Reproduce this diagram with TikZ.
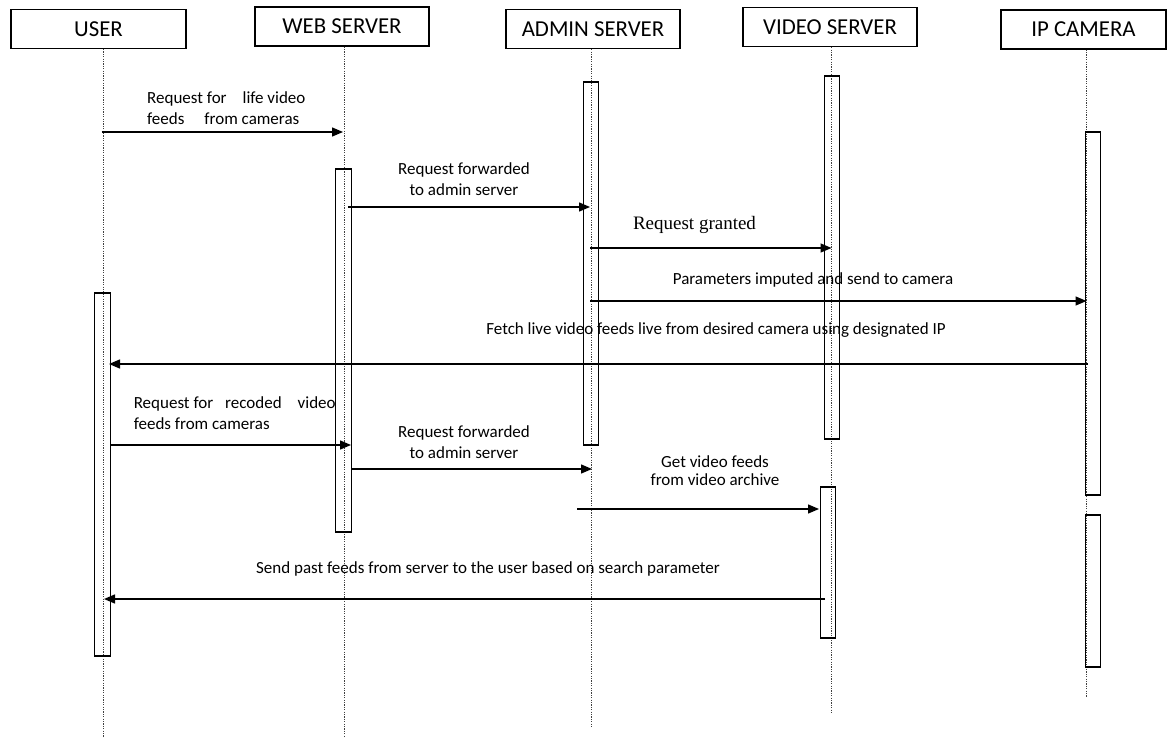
\documentclass[tikz,border=0pt]{standalone}
\usepackage{fontspec}
\setmainfont{Carlito}
\newfontfamily\tnrfont{Liberation Serif}
\usetikzlibrary{arrows.meta}
\tikzset{
  head/.style={draw, line width=1.4pt, inner sep=0pt, minimum height=39pt, font=\fontsize{22.8}{26}\selectfont},
  life/.style={draw=black!75, line width=0.7pt, dash pattern=on 1.2pt off 1.2pt},
  actbar/.style={draw, line width=1.1pt, rectangle, inner sep=0pt, minimum width=15.5pt},
  msg/.style={line width=1.4pt, -{Triangle[length=11pt,width=9pt]}},
  lbl/.style={font=\fontsize{17}{21}\selectfont, inner sep=0pt, align=center},
}
\begin{document}
\begin{tikzpicture}[x=1pt,y=-1pt]
\useasboundingbox (0,0) rectangle (1167,738);

% headers
\node[head, minimum width=175pt, line width=1.1pt] (user) at (98.5,29) {USER};
\node[head, minimum width=174pt] (web) at (342,26.5) {WEB SERVER};
\node[head, minimum width=174pt] (admin) at (593,29) {ADMIN SERVER};
\node[head, minimum width=174pt] (video) at (830,27) {VIDEO SERVER};
\node[head, minimum width=165pt] (cam) at (1083.5,29.5) {IP CAMERA};

% lifeline ends
\coordinate (userend) at (103,738);
\coordinate (webend) at (344,738);
\coordinate (adminend) at (591,727);
\coordinate (videoend) at (831,713);
\coordinate (camend) at (1086,697);

\draw[life] (user.south -| userend) -- (userend);
\draw[life] (web.south -| webend) -- (webend);
\draw[life] (admin.south -| adminend) -- (adminend);
\draw[life] (video.south -| videoend) -- (videoend);
\draw[life] (cam.south -| camend) -- (camend);

% activation bars
\node[actbar, minimum height=363pt] (ub) at (102.5,474.5) {};
\node[actbar, minimum height=363pt] (wb) at (343.5,350.5) {};
\node[actbar, minimum height=363pt] (ab) at (591,263.5) {};
\node[actbar, minimum height=363pt] (vb1) at (832,257.5) {};
\node[actbar, minimum height=363pt] (ib1) at (1093,313.5) {};
\node[actbar, minimum height=152pt] (ib2) at (1093,591) {};
\node[actbar, minimum height=151pt] (vb2) at (828,562.5) {};

% message end points
\coordinate (m1s) at (101.7,132);  \coordinate (m1e) at (343,132);
\coordinate (m2s) at (348,207);    \coordinate (m2e) at (590,207);
\coordinate (m3s) at (590,248);    \coordinate (m3e) at (831.5,248);
\coordinate (m4s) at (590,301);    \coordinate (m4e) at (1086.5,301);
\coordinate (m5s) at (1088,364);   \coordinate (m5e) at (109,364);
\coordinate (m6s) at (110.7,445);  \coordinate (m6e) at (351,445);
\coordinate (m7s) at (351,469);    \coordinate (m7e) at (592,469);
\coordinate (m8s) at (577,509);    \coordinate (m8e) at (819,509);
\coordinate (m9s) at (825,599);    \coordinate (m9e) at (104,599);

\draw[msg] (m1s) -- (m1e);
\draw[msg] (m2s) -- (m2e);
\draw[msg] (m3s) -- (m3e);
\draw[msg] (m4s) -- (m4e);
\draw[msg] (m5s) -- (m5e);
\draw[msg] (m6s) -- (m6e);
\draw[msg] (m7s) -- (m7e);
\draw[msg] (m8s) -- (m8e);
\draw[msg] (m9s) -- (m9e);

% labels
\node[lbl, anchor=west, align=left] (t1) at (147,108.5) {Request for\hspace{16pt}life video\\feeds\hspace{20pt}from cameras};
\node[lbl] (t2) at (464,179.5) {Request forwarded\\to admin server};
\node[lbl, font=\tnrfont\fontsize{19}{22}\selectfont] (t3) at (694.5,225) {Request granted};
\node[lbl] (t4) at (813,280) {Parameters imputed and send to camera};
\node[lbl] (t5) at (716,330) {Fetch live video feeds live from desired camera using designated IP};
\node[lbl, anchor=west, align=left] (t6) at (133.6,413) {Request for\hspace{12pt}recoded\hspace{16pt}video\\feeds from cameras};
\node[lbl] (t7) at (464,442) {Request forwarded\\to admin server};
\node[lbl, font=\fontsize{17}{18}\selectfont] (t8) at (715,470.5) {Get video feeds\\from video archive};
\node[lbl] (t9) at (488,569) {Send past feeds from server to the user based on search parameter};
\end{tikzpicture}
\end{document}
